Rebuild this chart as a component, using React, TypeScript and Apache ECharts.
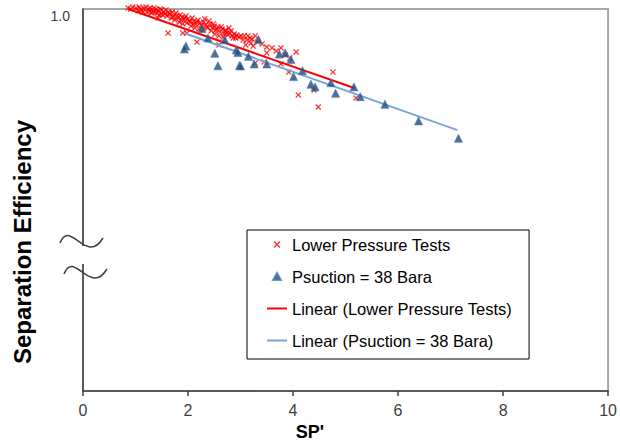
import React, { useEffect, useRef } from "react";
import * as echarts from "echarts";

// SP' (x) vs separation efficiency (y)
const lowerPressureTests: [number, number][] = [
  [0.86, 1.0005], [0.95, 1.001], [1.01, 1.0005], [1.07, 1.001], [1.1, 1.0], [1.16, 1.0005],
  [1.2, 1.001], [1.24, 1.0], [1.28, 1.0005], [1.31, 0.9995], [1.35, 1.0005], [1.39, 1.0],
  [1.43, 0.999], [1.47, 1.0], [1.5, 0.9995], [1.54, 0.9984], [1.58, 0.9995], [1.62, 0.9984],
  [1.05, 0.999], [1.14, 0.9984], [1.22, 0.9984], [1.3, 0.9979], [1.37, 0.9984], [1.43, 0.9953],
  [1.49, 0.9974], [1.52, 0.9969],
  [0.91, 1.0], [1.12, 0.9995], [1.26, 0.999], [1.33, 0.9984], [1.41, 0.9979], [1.45, 0.9969],
  [1.56, 0.9974], [1.6, 0.9963], [1.64, 0.9979], [1.71, 0.9958], [1.79, 0.9963], [1.87, 0.9942],
  [1.94, 0.9953], [2.02, 0.9937], [2.1, 0.9921], [2.17, 0.9932], [2.25, 0.9916], [2.36, 0.9906],
  [2.4, 0.9937], [2.48, 0.9921], [2.55, 0.9895], [2.63, 0.9906], [2.71, 0.989], [2.74, 0.9874],
  [2.82, 0.9885], [2.86, 0.9848], [2.97, 0.9853], [3.05, 0.9838], [3.14, 0.9859], [3.22, 0.9843],
  [1.66, 0.9974], [1.7, 0.9984], [1.73, 0.9963], [1.77, 0.9979], [1.81, 0.9953], [1.85, 0.9969],
  [1.89, 0.9958], [1.92, 0.9942], [1.96, 0.9963], [2.0, 0.9948], [2.04, 0.9932], [2.08, 0.9953],
  [2.11, 0.9937], [2.15, 0.9921], [2.19, 0.9942], [2.23, 0.9927], [2.27, 0.9911], [2.3, 0.9932],
  [2.34, 0.9916], [2.38, 0.9901], [1.68, 0.9953], [1.75, 0.9942], [1.83, 0.9932], [1.9, 0.9921],
  [1.98, 0.9927], [2.06, 0.9911], [2.13, 0.9901], [2.21, 0.9895], [2.29, 0.989], [2.32, 0.9948],
  [1.62, 0.9874], [1.9, 0.9874], [1.98, 0.9874], [2.17, 0.9827],
  [2.42, 0.9921], [2.46, 0.9901], [2.5, 0.9911], [2.53, 0.989], [2.57, 0.9906], [2.61, 0.988],
  [2.65, 0.9895], [2.69, 0.9869], [2.72, 0.9885], [2.76, 0.9864], [2.78, 0.9901], [2.8, 0.9874],
  [2.84, 0.9859], [2.88, 0.9869], [2.91, 0.9848], [2.44, 0.9885], [2.51, 0.9869], [2.59, 0.9859],
  [2.67, 0.9853], [2.59, 0.9812],
  [2.93, 0.9864], [3.01, 0.9859], [3.07, 0.9859], [3.12, 0.9838], [3.18, 0.9848], [3.1, 0.9812],
  [3.2, 0.9822], [3.28, 0.9859], [3.24, 0.9806], [3.33, 0.9827], [3.41, 0.9817], [3.28, 0.9717],
  [3.45, 0.9723],
  [3.5, 0.9801], [3.5, 0.977], [3.6, 0.9796], [3.68, 0.978], [3.77, 0.9796], [3.85, 0.9759],
  [3.94, 0.9743], [4.06, 0.9775], [3.77, 0.9712], [3.92, 0.967],
  [4.1, 0.955], [4.4, 0.9576], [4.48, 0.9487], [4.76, 0.967], [5.2, 0.9534],
];

const psuction38Bara: [number, number][] = [
  [1.96, 0.9806], [1.93, 0.9791], [2.26, 0.9898], [2.38, 0.9848], [2.51, 0.9768], [2.57, 0.9703],
  [2.7, 0.9839], [2.92, 0.9785], [2.95, 0.9772], [2.98, 0.9704], [3.0, 0.9702], [3.15, 0.9752],
  [3.26, 0.9712], [3.34, 0.9841], [3.5, 0.9712], [3.74, 0.9764], [3.85, 0.977], [3.96, 0.9735],
  [4.01, 0.9646], [4.18, 0.9677], [4.34, 0.9606], [4.42, 0.9592], [4.72, 0.9614], [4.81, 0.9559],
  [5.16, 0.9592], [5.28, 0.9541], [5.75, 0.9501], [6.39, 0.9414], [7.15, 0.9323],
];

const linearLowerPressure: [number, number][] = [[0.86, 1.0], [5.18, 0.9585]];
const linearPsuction38: [number, number][] = [[1.92, 0.9874], [7.13, 0.9366]];

const seriesNames = [
  "Lower Pressure Tests",
  "Psuction = 38 Bara",
  "Linear (Lower Pressure Tests)",
  "Linear (Psuction = 38 Bara)",
];

const xMin = 0;
const xMax = 10;
const xStep = 2;
const yMin = 0.8;
const yMax = 1.0;
const yTickLabel = "1.0";
const xAxisTitle = "SP'";
const yAxisTitle = "Separation Efficiency";

const crossSymbol =
  "path://M0,1.5L1.5,0L5,3.5L8.5,0L10,1.5L6.5,5L10,8.5L8.5,10L5,6.5L1.5,10L0,8.5L3.5,5Z";
const triangleIcon = "path://M5,0L10,9L0,9Z";
const lineIcon = "path://M0,0L20,0L20,2L0,2Z";

const FONT = "Arial, 'Liberation Sans', sans-serif";

export default function App() {
  const ref = useRef<HTMLDivElement>(null);

  useEffect(() => {
    if (!ref.current) return;
    const chart = echarts.init(ref.current, undefined, { renderer: "svg" });
    chart.setOption({
      animation: false,
      backgroundColor: "#ffffff",
      grid: {
        left: 83,
        right: 11,
        top: 9,
        bottom: 50,
        show: true,
        borderColor: "#a6a6a6",
        borderWidth: 2,
      },
      xAxis: {
        type: "value",
        min: xMin,
        max: xMax,
        interval: xStep,
        axisLine: { show: true, lineStyle: { color: "#404040", width: 1.5 } },
        axisTick: { show: true, length: 5, lineStyle: { color: "#404040", width: 1.5 } },
        splitLine: { show: false },
        axisLabel: { fontSize: 16, color: "#404040", fontFamily: FONT, margin: 11 },
      },
      yAxis: {
        type: "value",
        min: yMin,
        max: yMax,
        interval: yMax - yMin,
        axisLine: { show: true, lineStyle: { color: "#404040", width: 1.5 } },
        axisTick: { show: false },
        splitLine: { show: false },
        axisLabel: {
          fontSize: 14,
          color: "#404040",
          fontFamily: FONT,
          margin: 13,
          verticalAlign: "top",
          formatter: (v: number) => (Math.abs(v - yMax) < 1e-9 ? yTickLabel : ""),
        },
      },
      legend: {
        orient: "vertical",
        left: 247,
        top: 230,
        backgroundColor: "#ffffff",
        borderColor: "#000000",
        borderWidth: 1,
        padding: [6, 17, 10, 20],
        itemWidth: 20,
        itemHeight: 7,
        itemGap: 15,
        symbolKeepAspect: true,
        textStyle: { fontSize: 16.5, color: "#000000", fontFamily: FONT },
        data: [
          { name: seriesNames[0], icon: crossSymbol },
          { name: seriesNames[1], icon: triangleIcon },
          { name: seriesNames[2], icon: lineIcon },
          { name: seriesNames[3], icon: lineIcon },
        ],
      },
      series: [
        {
          name: seriesNames[0],
          type: "scatter",
          data: lowerPressureTests,
          symbol: crossSymbol,
          symbolSize: 6,
          clip: false,
          itemStyle: { color: "#ff0000" },
          z: 2,
        },
        {
          name: seriesNames[1],
          type: "scatter",
          data: psuction38Bara,
          symbol: "triangle",
          symbolSize: 8,
          clip: false,
          itemStyle: { color: "#1f4e79", borderColor: "#4a7ab0", borderWidth: 0.8 },
          z: 4,
        },
        {
          name: seriesNames[2],
          type: "line",
          data: linearLowerPressure,
          showSymbol: false,
          symbol: "none",
          lineStyle: { color: "#ff0000", width: 2 },
          itemStyle: { color: "#ff0000" },
          z: 3,
        },
        {
          name: seriesNames[3],
          type: "line",
          data: linearPsuction38,
          showSymbol: false,
          symbol: "none",
          lineStyle: { color: "#7aa3d6", width: 2 },
          itemStyle: { color: "#7aa3d6" },
          z: 3,
        },
      ],
      graphic: [
        {
          type: "rect",
          z: 100,
          shape: { x: 79, y: 246, width: 8, height: 18 },
          style: { fill: "#ffffff" },
        },
        {
          type: "bezierCurve",
          z: 101,
          shape: { x1: 60, y1: 243, cpx1: 70, cpy1: 218, cpx2: 86, cpy2: 266, x2: 103, y2: 238 },
          style: { stroke: "#404040", lineWidth: 1.5, fill: "none" },
        },
        {
          type: "bezierCurve",
          z: 101,
          shape: { x1: 64, y1: 274, cpx1: 74, cpy1: 249, cpx2: 90, cpy2: 297, x2: 107, y2: 269 },
          style: { stroke: "#404040", lineWidth: 1.5, fill: "none" },
        },
        {
          type: "text",
          z: 100,
          x: 310,
          y: 432,
          style: {
            text: xAxisTitle,
            fontSize: 18,
            fontWeight: "bold",
            fontFamily: FONT,
            fill: "#000000",
            align: "center",
            verticalAlign: "middle",
          },
        },
        {
          type: "text",
          z: 100,
          x: 22,
          y: 242,
          rotation: Math.PI / 2,
          style: {
            text: yAxisTitle,
            fontSize: 24,
            fontWeight: "bold",
            fontFamily: FONT,
            fill: "#000000",
            align: "center",
            verticalAlign: "middle",
          },
        },
      ],
    });
    return () => chart.dispose();
  }, []);

  return (
    <div
      ref={ref}
      style={{ position: "absolute", left: 0, top: 0, width: 620, height: 441 }}
    />
  );
}
